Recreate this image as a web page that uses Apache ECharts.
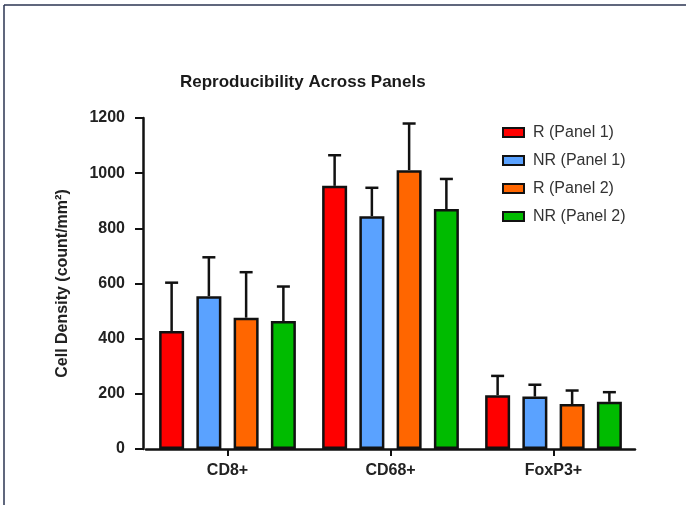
<!DOCTYPE html>
<html>
<head>
<meta charset="utf-8">
<script src="https://cdn.jsdelivr.net/npm/echarts@6/dist/echarts.min.js"></script>
<style>
html,body{margin:0;padding:0;background:#fff;}
#chart{width:686px;height:505px;}
</style>
</head>
<body>
<div id="chart"></div>
<script>
const categories = ['CD8+', 'CD68+', 'FoxP3+'];
const seriesNames = ['R (Panel 1)', 'NR (Panel 1)', 'R (Panel 2)', 'NR (Panel 2)'];
const r1Means = [428, 954, 195];
const r1Upper = [603, 1065, 265];
const nr1Means = [554, 844, 190];
const nr1Upper = [695, 947, 233];
const r2Means = [476, 1011, 163];
const r2Upper = [641, 1180, 212];
const nr2Means = [464, 870, 171];
const nr2Upper = [589, 979, 206];
const yTicks = [0, 200, 400, 600, 800, 1000, 1200];
const colors = ['#FF0000', '#5AA2FF', '#FF6600', '#00BB00'];

const means = [r1Means, nr1Means, r2Means, nr2Means];
const uppers = [r1Upper, nr1Upper, r2Upper, nr2Upper];

const BAR_W = 25;
const GAP = 0.49;
const FONT = 'Liberation Sans, Arial, Helvetica, sans-serif';

const chart = echarts.init(document.getElementById('chart'), null, {renderer: 'canvas'});

const series = [];
means.forEach((m, i) => {
  series.push({
    name: seriesNames[i],
    type: 'bar',
    data: m,
    barWidth: BAR_W,
    barGap: (GAP * 100) + '%',
    itemStyle: {color: colors[i], borderColor: '#111', borderWidth: 2.5},
    z: 2
  });
});
means.forEach((m, i) => {
  series.push({
    name: seriesNames[i] + ' err',
    type: 'custom',
    data: m.map((v, k) => [k, v, uppers[i][k]]),
    renderItem: function (params, api) {
      const k = api.value(0);
      const base = api.coord([k, api.value(1)]);
      const top = api.coord([k, api.value(2)]);
      const off = (i - 1.5) * BAR_W * (1 + GAP);
      const x = base[0] + off;
      const capHalf = 6.5;
      return {
        type: 'group',
        children: [
          {type: 'line', shape: {x1: x, y1: base[1], x2: x, y2: top[1]}, style: {stroke: '#111', lineWidth: 2.5}},
          {type: 'line', shape: {x1: x - capHalf, y1: top[1], x2: x + capHalf, y2: top[1]}, style: {stroke: '#111', lineWidth: 2.5}}
        ]
      };
    },
    z: 1,
    silent: true
  });
});

const option = {
  animation: false,
  backgroundColor: '#fff',
  title: {
    text: 'Reproducibility Across Panels',
    left: 175,
    top: 69,
    textStyle: {fontFamily: FONT, fontSize: 17, fontWeight: 'bold', color: '#1a1a1a'}
  },
  legend: {
    data: seriesNames,
    orient: 'vertical',
    left: 497,
    top: 119,
    itemWidth: 21,
    itemHeight: 9,
    itemGap: 11,
    icon: 'rect',
    textStyle: {fontFamily: FONT, fontSize: 16, color: '#333', padding: [0, 0, 0, 4], lineHeight: 17}
  },
  grid: {left: 146, right: 51, top: 118, bottom: 56, containLabel: false},
  xAxis: {
    type: 'category',
    data: categories,
    axisLine: {lineStyle: {color: '#111', width: 2.5}},
    axisTick: {show: true, alignWithLabel: true, length: 7, lineStyle: {color: '#111', width: 2}},
    axisLabel: {fontFamily: FONT, fontSize: 16, fontWeight: 'bold', color: '#222', margin: 14}
  },
  yAxis: {
    type: 'value',
    min: 0,
    max: 1200,
    interval: 200,
    offset: 3,
    name: 'Cell Density (count/mm²)',
    nameLocation: 'middle',
    nameGap: 72,
    nameTextStyle: {fontFamily: FONT, fontSize: 16, fontWeight: 'bold', color: '#222'},
    splitLine: {show: false},
    axisLine: {show: true, lineStyle: {color: '#111', width: 2.5}},
    axisTick: {show: true, length: 8, lineStyle: {color: '#111', width: 2}},
    axisLabel: {fontFamily: FONT, fontSize: 16, fontWeight: 'bold', color: '#222', margin: 18,
      formatter: v => yTicks.includes(v) ? String(v) : ''}
  },
  graphic: [
    {type: 'line', shape: {x1: 4, y1: 5, x2: 686, y2: 5}, style: {stroke: '#2b3552', lineWidth: 1.5}, silent: true},
    {type: 'line', shape: {x1: 4, y1: 5, x2: 4, y2: 505}, style: {stroke: '#2b3552', lineWidth: 1.5}, silent: true}
  ],
  series: series
};
chart.setOption(option);
</script>
</body>
</html>
